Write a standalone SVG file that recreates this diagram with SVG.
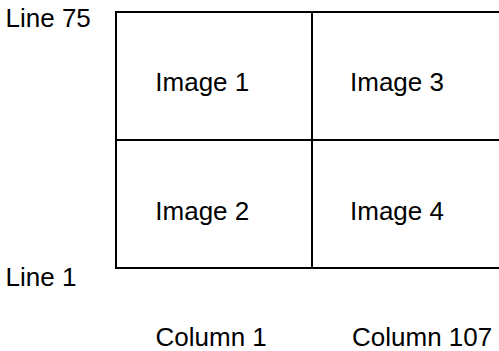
<svg xmlns="http://www.w3.org/2000/svg" width="499" height="351" viewBox="0 0 499 351">
<style>
.cell{fill:none;stroke:#000;stroke-width:2}
.t{font-family:"Liberation Sans",Arial,sans-serif;font-size:26px;fill:#000}
</style>
<rect width="499" height="351" fill="#fff"/>
<g id="image1"><rect class="cell" x="116" y="12" width="196" height="128"/><text class="t" x="155.3" y="91">Image 1</text></g>
<g id="image3"><rect class="cell" x="312" y="12" width="200" height="128"/><text class="t" x="350" y="91">Image 3</text></g>
<g id="image2"><rect class="cell" x="116" y="140" width="196" height="128"/><text class="t" x="155.3" y="220">Image 2</text></g>
<g id="image4"><rect class="cell" x="312" y="140" width="200" height="128"/><text class="t" x="350" y="220">Image 4</text></g>
<g id="line75"><text class="t" x="5.5" y="27">Line 75</text></g>
<g id="line1"><text class="t" x="5.5" y="286">Line 1</text></g>
<g id="col1"><text class="t" x="155.5" y="346">Column 1</text></g>
<g id="col107"><text class="t" x="352" y="346">Column 107</text></g>
<g id="connectors"></g>
</svg>
